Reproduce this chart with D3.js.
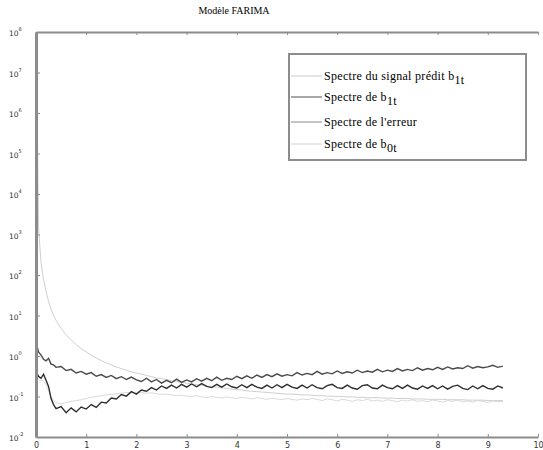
<!DOCTYPE html>
<html>
<head>
<meta charset="utf-8">
<script src="https://cdn.jsdelivr.net/npm/d3@7"></script>
<style>
  body { margin: 0; background: #fff; }
  svg { display: block; }
  .serif { font-family: "Liberation Serif", "Times New Roman", serif; }
</style>
</head>
<body>
<svg id="chart"></svg>
<script>
// frequency axis (shared by all spectra)
var freq = [0.01,0.05,0.1,0.15,0.2,0.25,0.3,0.35,0.4,0.5,0.6,0.7,0.8,0.9,1.0,
  1.1,1.2,1.3,1.4,1.5,1.6,1.7,1.8,1.9,2.0,
  2.1,2.2,2.3,2.4,2.5,2.6,2.7,2.8,2.9,3.0,
  3.1,3.2,3.3,3.4,3.5,3.6,3.7,3.8,3.9,4.0,
  4.1,4.2,4.3,4.4,4.5,4.6,4.7,4.8,4.9,5.0,
  5.1,5.2,5.3,5.4,5.5,5.6,5.7,5.8,5.9,6.0,
  6.1,6.2,6.3,6.4,6.5,6.6,6.7,6.8,6.9,7.0,
  7.1,7.2,7.3,7.4,7.5,7.6,7.7,7.8,7.9,8.0,
  8.1,8.2,8.3,8.4,8.5,8.6,8.7,8.8,8.9,9.0,
  9.1,9.2,9.3]

// spectra, stored as log10 of the value
var predit = [-0.45,-0.55,-0.60,-0.62,-0.70,-0.85,-1.00,-1.10,-1.15,-1.18,-1.15,-1.12,-1.10,-1.08,-1.05,
  -1.02,-1.00,-0.98,-0.96,-0.95,-0.93,-0.92,-0.90,-0.91,-0.89,
  -0.90,-0.92,-0.91,-0.93,-0.95,-0.94,-0.96,-0.98,-0.97,-0.99,
  -1.00,-0.98,-1.01,-1.03,-1.00,-1.02,-1.04,-1.01,-1.03,-1.05,
  -1.02,-1.04,-1.06,-1.03,-1.05,-1.07,-1.04,-1.06,-1.08,-1.05,
  -1.07,-1.09,-1.06,-1.08,-1.05,-1.07,-1.10,-1.06,-1.08,-1.11,
  -1.07,-1.09,-1.12,-1.08,-1.10,-1.07,-1.11,-1.09,-1.12,-1.08,
  -1.10,-1.13,-1.09,-1.11,-1.08,-1.12,-1.10,-1.13,-1.09,-1.11,
  -1.14,-1.10,-1.12,-1.09,-1.13,-1.11,-1.14,-1.10,-1.12,-1.15,
  -1.11,-1.13,-1.12]

var b1t = [0.30,0.10,0.02,-0.08,-0.12,-0.06,-0.20,-0.22,-0.28,-0.26,-0.36,-0.33,-0.42,-0.38,-0.45,
  -0.41,-0.50,-0.46,-0.53,-0.48,-0.56,-0.51,-0.58,-0.52,-0.59,
  -0.63,-0.55,-0.64,-0.58,-0.67,-0.60,-0.66,-0.57,-0.65,-0.59,
  -0.64,-0.56,-0.62,-0.55,-0.61,-0.52,-0.60,-0.55,-0.58,-0.50,
  -0.56,-0.49,-0.55,-0.47,-0.53,-0.46,-0.51,-0.44,-0.50,-0.46,
  -0.49,-0.41,-0.47,-0.43,-0.46,-0.38,-0.45,-0.41,-0.44,-0.37,
  -0.43,-0.39,-0.42,-0.35,-0.41,-0.37,-0.40,-0.33,-0.39,-0.35,
  -0.38,-0.31,-0.37,-0.33,-0.36,-0.29,-0.35,-0.31,-0.34,-0.28,
  -0.33,-0.27,-0.32,-0.29,-0.31,-0.24,-0.30,-0.26,-0.29,-0.27,
  -0.23,-0.28,-0.25]

var erreur = [-0.40,-0.50,-0.55,-0.45,-0.60,-0.75,-1.05,-1.20,-1.30,-1.25,-1.40,-1.28,-1.38,-1.26,-1.31,
  -1.20,-1.27,-1.14,-1.16,-1.04,-1.06,-0.95,-0.99,-0.88,-0.94,
  -0.84,-0.87,-0.78,-0.84,-0.74,-0.80,-0.72,-0.79,-0.70,-0.77,
  -0.69,-0.76,-0.68,-0.75,-0.78,-0.70,-0.77,-0.69,-0.76,-0.79,
  -0.71,-0.78,-0.70,-0.77,-0.80,-0.72,-0.79,-0.71,-0.78,-0.70,
  -0.77,-0.80,-0.72,-0.79,-0.71,-0.78,-0.81,-0.73,-0.70,-0.78,
  -0.80,-0.72,-0.79,-0.82,-0.73,-0.71,-0.79,-0.81,-0.72,-0.78,
  -0.81,-0.73,-0.80,-0.72,-0.79,-0.82,-0.74,-0.80,-0.73,-0.81,
  -0.74,-0.82,-0.75,-0.72,-0.80,-0.83,-0.74,-0.81,-0.73,-0.80,
  -0.82,-0.74,-0.79]

var b0t = [7.50,3.20,2.30,1.90,1.60,1.35,1.15,1.00,0.88,0.68,0.52,0.40,0.28,0.18,0.10,
  0.02,-0.05,-0.11,-0.17,-0.22,-0.27,-0.31,-0.35,-0.39,-0.42,
  -0.45,-0.48,-0.51,-0.54,-0.56,-0.58,-0.61,-0.63,-0.65,-0.67,
  -0.69,-0.71,-0.72,-0.74,-0.76,-0.77,-0.79,-0.80,-0.82,-0.83,
  -0.84,-0.86,-0.87,-0.88,-0.89,-0.90,-0.91,-0.92,-0.93,-0.94,
  -0.94,-0.95,-0.96,-0.96,-0.97,-0.98,-0.98,-0.99,-0.99,-1.00,
  -1.00,-1.01,-1.01,-1.02,-1.02,-1.03,-1.03,-1.03,-1.04,-1.04,
  -1.04,-1.05,-1.05,-1.05,-1.06,-1.06,-1.06,-1.07,-1.07,-1.07,
  -1.07,-1.08,-1.08,-1.08,-1.08,-1.09,-1.09,-1.09,-1.09,-1.10,
  -1.10,-1.10,-1.10]

var seriesNames = ["Spectre du signal prédit b", "Spectre de b", "Spectre de l'erreur", "Spectre de b"]
var seriesSubs = ["1t", "1t", "", "0t"]
var seriesColors = ["#dadada", "#4a4a4a", "#2e2e2e", "#cfcfcf"]
var legendColors = ["#dddddd", "#8a8a8a", "#b0b0b0", "#e2e2e2"]
var xTicks = [0,1,2,3,4,5,6,7,8,9,10]
var yExps = [-2,-1,0,1,2,3,4,5,6,7,8]

var dimensions = {
    width: 543,
    height: 450,
    margin: { top: 32, bottom: 13, left: 36, right: 5 }
}

var svg = d3.select("#chart")
            .attr("width", dimensions.width)
            .attr("height", dimensions.height)

var xScale = d3.scaleLinear()
               .domain([0, 10])
               .range([dimensions.margin.left, dimensions.width - dimensions.margin.right])

var yScale = d3.scaleLog()
               .domain([1e-2, 1e8])
               .range([dimensions.height - dimensions.margin.bottom, dimensions.margin.top])

var series = [predit, b1t, erreur, b0t]
var drawOrder = [0, 3, 1, 2]

var line = d3.line()
             .x((d, i) => xScale(freq[i]))
             .y(d => yScale(Math.pow(10, d)))

var plot = svg.append("g")
drawOrder.forEach(function(k) {
    plot.append("path")
        .datum(series[k])
        .attr("d", line)
        .attr("fill", "none")
        .attr("stroke", seriesColors[k])
        .attr("stroke-width", k == 1 || k == 2 ? 1.4 : 1)
})

// axes
var axisColor = "#8c8c8c"
var xAxis = svg.append("g")
               .attr("transform", `translate(0,${yScale.range()[0]})`)
               .call(d3.axisBottom(xScale).tickValues(xTicks).tickSizeInner(-3).tickSizeOuter(0).tickPadding(5).tickFormat(d3.format("d")))
var xTop = svg.append("g")
              .attr("transform", `translate(0,${yScale.range()[1]})`)
              .call(d3.axisTop(xScale).tickValues(xTicks).tickSizeInner(-3).tickSizeOuter(0).tickFormat(""))

var minor = []
for (var e = -2; e < 8; e++) {
    for (var m = 2; m < 10; m++) minor.push(m * Math.pow(10, e))
}
var yMinor = svg.append("g")
                .attr("transform", `translate(${xScale.range()[0]},0)`)
                .call(d3.axisLeft(yScale).tickValues(minor).tickSizeInner(-2).tickSizeOuter(0).tickFormat(""))
var yAxis = svg.append("g")
               .attr("transform", `translate(${xScale.range()[0]},0)`)
               .call(d3.axisLeft(yScale).tickValues(yExps.map(e => Math.pow(10, e))).tickSizeInner(-4).tickSizeOuter(0).tickFormat(""))

svg.selectAll(".domain").attr("stroke", axisColor).attr("stroke-width", 2)
yAxis.select(".domain").attr("stroke-width", 3)
svg.selectAll(".tick line").attr("stroke", axisColor)
xAxis.selectAll("text")
     .attr("font-family", "DejaVu Sans")
     .attr("font-size", 8)
     .attr("fill", "#333")

// y labels 10^e
var yLab = svg.append("g")
yExps.forEach(function(e) {
    var t = yLab.append("text")
                .attr("x", 9)
                .attr("y", yScale(Math.pow(10, e)) + 4)
                .attr("font-family", "DejaVu Sans")
                .attr("font-size", 7.5)
                .attr("fill", "#333")
    t.append("tspan").text("10")
    t.append("tspan").attr("dy", -5).attr("font-size", 5).text(e)
})

svg.append("text")
   .attr("class", "serif")
   .attr("x", 234)
   .attr("y", 14)
   .attr("text-anchor", "middle")
   .attr("font-size", 10)
   .text("Modèle FARIMA")

// legend
var legend = svg.append("g")
legend.append("rect")
      .attr("x", 289).attr("y", 54)
      .attr("width", 237).attr("height", 106)
      .attr("fill", "#fff")
      .attr("stroke", "#8c8c8c")
      .attr("stroke-width", 2)

var rowY = [80, 101, 126, 148]
seriesNames.forEach(function(name, i) {
    legend.append("line")
          .attr("x1", 291).attr("x2", 322)
          .attr("y1", rowY[i] - 4).attr("y2", rowY[i] - 4)
          .attr("stroke", legendColors[i])
          .attr("stroke-width", 1.5)
    var t = legend.append("text")
                  .attr("class", "serif")
                  .attr("x", 324)
                  .attr("y", rowY[i])
                  .attr("font-size", 12)
                  .attr("letter-spacing", 0.3)
                  .text(name)
    if (seriesSubs[i]) {
        t.append("tspan").attr("dy", 4).text(seriesSubs[i])
    }
})
</script>
</body>
</html>
